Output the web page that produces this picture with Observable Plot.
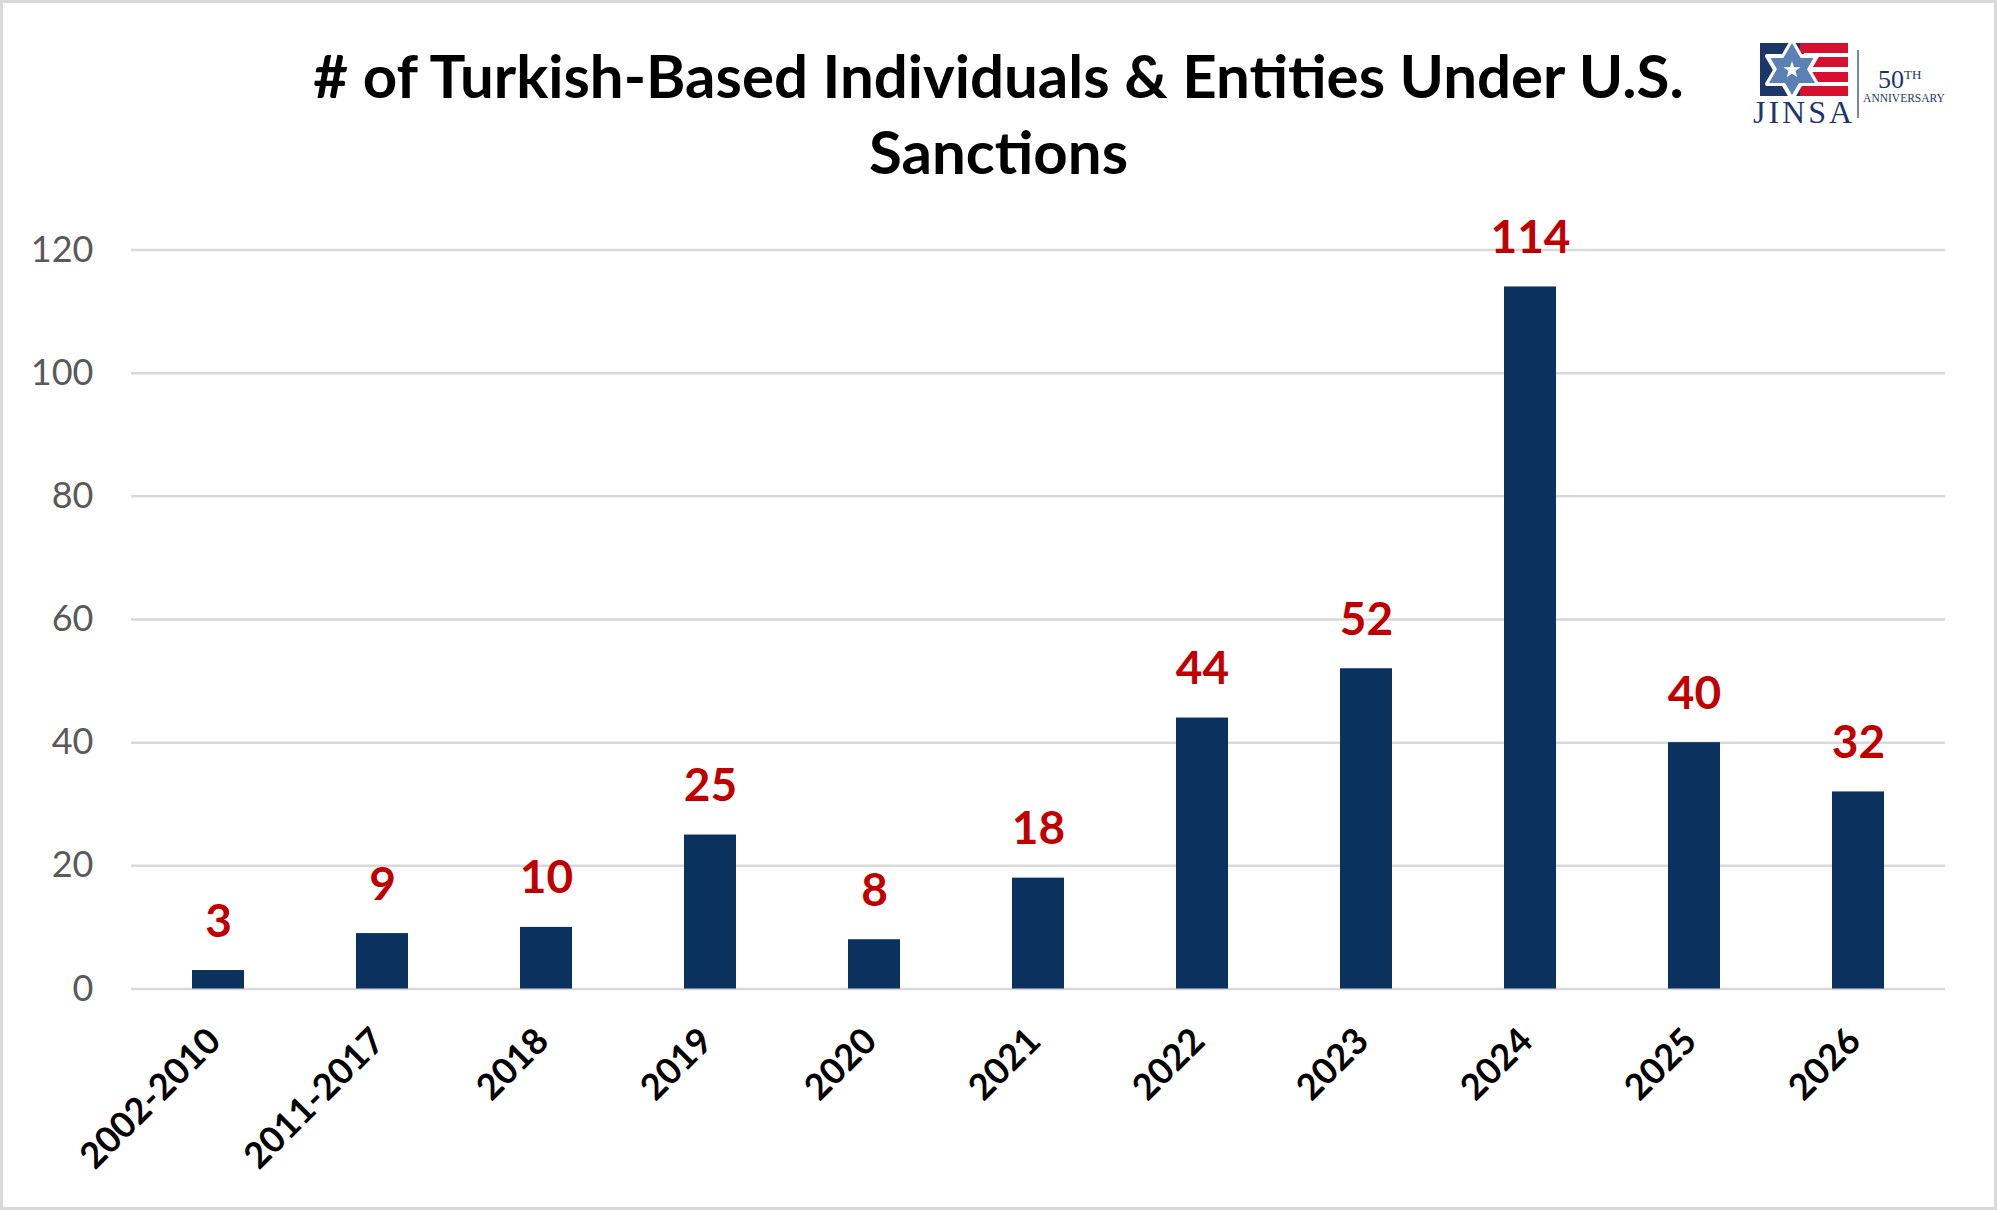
<!DOCTYPE html>
<html><head><meta charset="utf-8">
<script src="https://cdn.jsdelivr.net/npm/d3@7"></script>
<script src="https://cdn.jsdelivr.net/npm/@observablehq/plot@0.6"></script>
<style>
body{margin:0;background:#fff;width:1997px;height:1210px;overflow:hidden;font-family:Lato,sans-serif;}
#frame{position:absolute;left:0;top:0;width:1997px;height:1210px;box-sizing:border-box;border:3px solid #d9d9d9;}
#title{position:absolute;left:0;width:1997px;top:37px;text-align:center;font-weight:700;font-size:60px;line-height:76px;color:#000;}
#chart{position:absolute;left:0;top:190px;}
#logo{position:absolute;left:0;top:0;}
</style></head><body>
<div id="frame"></div>
<div id="title"># of Turkish-Based Individuals &amp; Entities Under U.S.<br>Sanctions</div>
<div id="chart"></div>
<svg id="logo" width="1997" height="140" viewBox="0 0 1997 140">
  <rect x="1760" y="43" width="44" height="53" fill="#1b3768"/>
  <rect x="1800" y="43" width="48" height="10" fill="#d6112f"/>
  <rect x="1800" y="57" width="48" height="10" fill="#d6112f"/>
  <rect x="1800" y="72" width="48" height="10" fill="#d6112f"/>
  <rect x="1800" y="86" width="48" height="10" fill="#d6112f"/>
  <g transform="translate(1792,70)">
    <polygon points="0,-29 25,14 -25,14" fill="#5b80b4" stroke="#fff" stroke-width="4" stroke-linejoin="round"/>
    <polygon points="0,29 25,-14 -25,-14" fill="#5b80b4" stroke="#fff" stroke-width="4" stroke-linejoin="round"/>
    <polygon points="0,-27 23,13 -23,13" fill="#5b80b4"/>
    <polygon points="0,-9 2.1,-2.9 8.6,-2.8 3.4,1.1 5.3,7.3 0,3.6 -5.3,7.3 -3.4,1.1 -8.6,-2.8 -2.1,-2.9" fill="#fff"/>
  </g>
  <text x="1804" y="123" text-anchor="middle" font-family="Liberation Serif, DejaVu Serif, serif" font-size="32" fill="#1b3768" letter-spacing="3">JINSA</text>
  <line x1="1858" y1="50" x2="1858" y2="118" stroke="#1b3768" stroke-width="1.2"/>
  <text x="1878" y="88" font-family="Liberation Serif, DejaVu Serif, serif" font-size="26" fill="#1b3768">50<tspan font-size="13" dy="-9">TH</tspan></text>
  <text x="1904" y="102" text-anchor="middle" font-family="Liberation Serif, DejaVu Serif, serif" font-size="11.5" fill="#1b3768">ANNIVERSARY</text>
</svg>
<script>
const categories = ["2002-2010","2011-2017","2018","2019","2020","2021","2022","2023","2024","2025","2026"];
const values = [3,9,10,25,8,18,44,52,114,40,32];
const yTicks = [0,20,40,60,80,100,120];
const data = categories.map((c,i)=>({category:c, value:values[i]}));

const chart = Plot.plot({
  width:1997, height:1010,
  marginLeft:131, marginRight:52, marginTop:59.5, marginBottom:211.5,
  style:{fontFamily:"Lato, sans-serif", background:"transparent", overflow:"visible"},
  x:{domain:categories, paddingInner:0.685, paddingOuter:0.3425, label:null},
  y:{domain:[0,120], ticks:yTicks, label:null},
  marks:[
    Plot.gridY(yTicks,{stroke:"#d9d9d9", strokeOpacity:1, strokeWidth:2.5}),
    Plot.barY(data,{x:"category", y:"value", fill:"#0b315f"}),
    Plot.text(data,{x:"category", y:"value", text:d=>String(d.value), dy:-34, lineAnchor:"bottom", fill:"#c00000", fontSize:46, fontWeight:700}),
    Plot.axisY(yTicks,{tickSize:0, tickPadding:38, fontSize:36, fill:"#595959", label:null}),
    Plot.axisX({tickSize:0, tickRotate:-45, tickPadding:46, dx:-4, fontSize:36, fontWeight:700, fill:"#000", label:null})
  ]
});
document.getElementById("chart").appendChild(chart);
</script>
</body></html>
